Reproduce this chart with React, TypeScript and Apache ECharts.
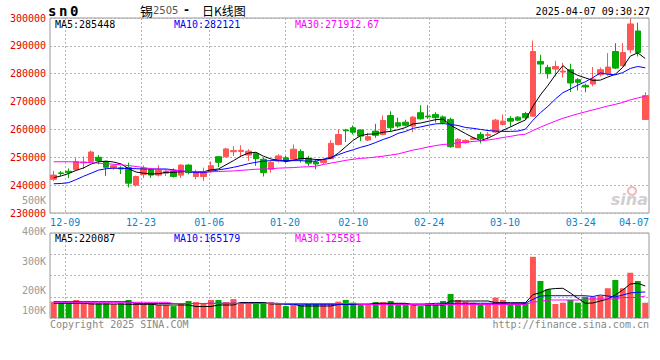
import React, { useEffect, useRef } from "react";
import * as echarts from "echarts";

const dates = [
  "12-05","12-06","12-09","12-10","12-11","12-12","12-13","12-16","12-17","12-18",
  "12-19","12-20","12-23","12-24","12-25","12-26","12-27","12-30","12-31","01-02",
  "01-03","01-06","01-07","01-08","01-09","01-10","01-13","01-14","01-15","01-16",
  "01-17","01-20","01-21","01-22","01-23","01-24","01-27","02-05","02-06","02-07",
  "02-10","02-11","02-12","02-13","02-14","02-17","02-18","02-19","02-20","02-21",
  "02-24","02-25","02-26","02-27","02-28","03-03","03-04","03-05","03-06","03-07",
  "03-10","03-11","03-12","03-13","03-14","03-17","03-18","03-19","03-20","03-21",
  "03-24","03-25","03-26","03-27","03-28","03-31","04-01","04-02","04-03","04-07",
];
const labelledDates = ["12-09","12-23","01-06","01-20","02-10","02-24","03-10","03-24","04-07"];

const opens = [
  242100,244400,245000,245500,248000,248500,250000,248500,246200,246200,
  246300,240000,243800,245600,243600,244300,244900,243600,247200,243100,
  243100,245000,250200,250200,252000,252100,250800,251300,249300,245700,
  248700,249800,249300,252100,249600,248300,248100,249500,254600,259800,
  260600,259800,256200,259400,258200,265000,262400,262600,261200,266000,
  264800,265400,264500,263600,253450,255240,256430,258210,257860,259050,
  261790,263930,264400,265710,264760,284400,282260,281670,280600,281430,
  277860,275830,276310,279640,280000,287970,282860,288570,295360,263570,
];
const closes = [
  243600,244200,244500,248500,248300,251900,248700,246400,247000,245800,
  240700,243100,246000,243600,245400,244900,243100,247200,244500,244500,
  244900,247000,248200,253000,252400,252500,252200,249500,244500,248100,
  250500,248700,252900,249300,247900,247600,249000,255000,258200,259500,
  259000,257600,257400,257900,263200,260600,261200,261500,264400,263800,
  264500,264200,262400,253800,256430,256070,256900,256790,258210,263330,
  262980,262980,263330,264170,287970,283450,280000,282600,280950,276670,
  276900,275240,278100,281430,282380,282020,287620,297860,287620,272140,
];
const lows = [
  241500,243300,242500,245500,245800,248300,247500,243300,245500,244000,
  239200,239500,242600,242600,243100,243300,242700,242600,243900,242100,
  241500,244500,246500,249900,250500,250000,248700,246900,243100,244500,
  248100,248000,248700,248100,246900,245700,247500,249500,254300,255500,
  258200,255800,255800,257000,257900,259400,260600,261000,259000,263500,
  263800,262500,261800,253400,253450,254880,256200,255000,256430,258810,
  261430,260950,263000,263450,264760,280000,278210,279050,278690,273450,
  273930,273330,275480,279050,279290,281670,282620,287380,286190,263570,
];
const highs = [
  245100,245000,246000,249900,250300,252400,250800,248700,247600,246800,
  248100,243400,247100,246000,247200,245700,246000,247500,247500,245500,
  246300,248500,250300,253400,254000,254300,252900,251600,249900,248700,
  251100,250500,254600,252900,250500,249300,249500,256100,260000,260200,
  261400,260000,258800,262000,265000,266500,264200,263500,264800,268700,
  268700,266200,265000,264200,256900,256430,257100,259050,259050,263810,
  265360,264760,264800,266310,291900,286790,283210,284640,283930,283570,
  278450,276430,282400,282260,287380,290950,290950,299760,298330,273330,
];

const ma5 = [
  242700,243300,244200,245300,246200,247600,248400,248600,248300,247600,
  245900,244700,244300,244000,244100,244600,244600,244800,244900,244800,
  244800,245500,245800,247300,248800,250400,251500,251800,250400,249400,
  248900,248500,248900,249600,249500,249200,249200,249600,251500,253800,
  256100,257800,258300,258400,259000,259300,259900,260700,262000,262300,
  262900,263500,263700,261500,260000,258500,257100,256000,256900,258200,
  259700,260900,262200,263400,268300,272400,275800,279600,282900,280700,
  279400,278500,277600,277700,278800,279800,282300,286300,287500,285448,
];
const ma10 = [
  240500,240600,240900,242000,243200,244300,245400,245900,246100,246000,
  246000,245900,245800,245800,245800,245800,245500,245100,244800,244500,
  244500,244900,245500,245900,246400,247000,247700,248200,248600,248800,
  248800,248800,248800,248800,248600,248600,249300,250000,250900,251900,
  252700,253600,254300,255300,256400,257300,258600,259300,260400,260900,
  261500,262000,262100,261800,261400,260700,260400,260000,259600,259400,
  259300,259300,259400,260100,263300,266000,268300,270900,273200,274500,
  275900,277100,278600,280300,279800,279600,280400,281900,282600,282121,
];
const ma30 = [
  248400,248400,248400,248300,248200,248100,247900,247700,247500,247300,
  247000,246700,246300,245900,245700,245500,245300,245100,244900,244800,
  244800,244800,244900,245000,245100,245300,245500,245700,245800,245900,
  246100,246200,246300,246500,246600,246800,247400,247900,248400,248900,
  249300,249600,249800,250100,250400,250800,251200,251900,252600,253100,
  253700,254200,254600,254800,255200,255400,255700,255900,256200,256600,
  257100,257500,258000,258300,259600,260800,261900,263000,264000,264800,
  265600,266300,267000,267700,268400,269000,269700,270600,271300,271913,
];

const volumes = [
  76700,72000,72000,84700,72000,72000,69000,69000,66000,69000,
  85000,72000,66000,69000,61000,61000,56000,66000,80000,75000,
  66000,85000,85000,75000,89000,72000,72000,75000,75000,75000,
  66000,56000,61000,61000,66000,69000,69000,69000,77000,85000,
  72000,61000,61000,75000,75000,80000,61000,61000,66000,56000,
  69000,61000,80000,113000,85000,77000,72000,66000,66000,96000,
  85000,66000,66000,72000,288000,174000,135000,66000,72000,85000,
  72000,100000,100000,104000,140000,179000,140000,213000,174000,72000,
];
const volMa5 = [
  69200,69200,69200,69200,69200,65900,65900,65900,65900,65900,
  64500,64500,64500,64500,61200,61200,61200,61200,61200,54100,
  54100,54100,61200,61200,61200,72900,72900,72900,72900,65900,
  65900,65900,65900,56500,56500,56500,56500,56500,63500,63500,
  63500,63500,63500,69200,69200,69200,69200,69200,61200,61200,
  61200,61200,61200,80000,80000,80000,80000,80000,80000,72000,
  72000,72000,72000,72000,110000,119000,135000,138800,139800,117700,
  92700,69200,70600,80000,89400,108200,131800,160000,163300,150600,
];
const volMa10 = [
  76700,76700,76700,76700,76700,76700,76700,76700,76700,76700,
  76700,68200,68200,68200,68200,68200,68200,68200,68200,68200,
  68200,69200,69200,69200,69200,69200,69200,69200,69200,69200,
  69200,64500,64500,64500,64500,64500,64500,64500,64500,64500,
  64500,65900,65900,65900,65900,65900,65900,65900,65900,65900,
  65900,69200,69200,69200,69200,69200,69200,69200,69200,69200,
  69200,69200,69200,69200,88000,103500,104900,104900,104900,104900,
  104900,104900,101200,108200,103500,98800,108200,117700,121000,122400,
];
const volMa30 = [
  73900,73900,73900,73900,73900,73900,73900,73900,73900,73900,
  73900,73900,73900,73900,73900,73900,68200,68200,68200,68200,
  68200,68200,68200,68200,68200,68200,68200,68200,68200,68200,
  68200,68200,68200,68200,68200,68200,68200,68200,68200,68200,
  68200,63500,63500,63500,63500,63500,63500,63500,63500,63500,
  63500,63500,63500,63500,63500,63500,63500,63500,63500,63500,
  63500,63500,63500,63500,75300,77600,84700,84700,84700,84700,
  84700,89400,89400,89400,89400,89400,96500,96500,96500,103500,
];

const priceMin = 230000;
const priceMax = 300000;
const priceStep = 10000;
const volMax = 400000;
const volStep = 100000;
const volTickLabels = ["400K", "300K", "200K", "100K"];
const volTickLabelY = [231, 261, 290, 310];

const MONO = '"DejaVu Sans Mono", "Liberation Mono", monospace';
const UP = "#ff5555";
const DOWN = "#00aa00";
const GRIDC = "#b4b4b4";

export default function App() {
  const ref = useRef<HTMLDivElement>(null);
  useEffect(() => {
    if (!ref.current) return;
    const chart = echarts.init(ref.current, null, { renderer: "svg" });
    const lineIdx = new Set(labelledDates.map((d) => dates.indexOf(d)));
    const lastIdx = dates.indexOf(labelledDates[labelledDates.length - 1]);
    const candleData = opens.map((o, i) => [o, closes[i], lows[i], highs[i]]);
    const volData = volumes.map((v, i) => ({
      value: v,
      itemStyle: { color: closes[i] >= opens[i] ? UP : DOWN },
    }));
    const grid = {
      show: true,
      borderColor: "#999",
      borderWidth: 1,
      backgroundColor: "transparent",
    };
    const splitX = {
      show: true,
      interval: (i: number) => lineIdx.has(i) && i !== lastIdx,
      lineStyle: { color: GRIDC, type: [2, 2] as any, width: 1 },
    };
    const hiddenCat = (gridIndex: number) => ({
      type: "category",
      gridIndex,
      position: "bottom",
      data: dates,
      boundaryGap: true,
      axisLine: { show: false },
      axisTick: { show: false },
      axisLabel: { show: false },
      splitLine: { show: false },
    });
    const line = (name: string, data: number[], color: string, xi: number) => ({
      type: "line",
      name,
      data,
      xAxisIndex: xi,
      yAxisIndex: xi,
      symbol: "none",
      silent: true,
      lineStyle: { color, width: 1 },
      z: 5,
    });
    const txt = (
      text: string,
      x: number,
      y: number,
      fill: string,
      align = "left",
      font = `10px ${MONO}`
    ) => ({
      type: "text",
      x,
      y,
      silent: true,
      style: { text, fill, font, textAlign: align, textVerticalAlign: "middle", verticalAlign: "middle" },
    });
    chart.setOption({
      animation: false,
      backgroundColor: "#fff",
      grid: [
        { ...grid, left: 50, top: 18, width: 599, height: 195 },
        { ...grid, left: 50, top: 233, width: 599, height: 85 },
      ],
      xAxis: [
        hiddenCat(0),
        hiddenCat(1),
        {
          type: "category",
          gridIndex: 0,
          position: "bottom",
          data: dates,
          boundaryGap: false,
          axisLine: { show: false },
          axisTick: { show: false },
          splitLine: splitX,
          axisLabel: {
            interval: (i: number) => lineIdx.has(i),
            margin: 4,
            formatter: (v: string) => (dates.indexOf(v) === lastIdx ? `{b|${v}}` : `{a|${v}}`),
            rich: {
              a: { color: "#0a84cc", fontFamily: MONO, fontSize: 10 },
              b: { color: "#0a84cc", fontFamily: MONO, fontSize: 10, padding: [0, 30, 0, 0] },
            },
          },
        },
        {
          type: "category",
          gridIndex: 1,
          position: "bottom",
          data: dates,
          boundaryGap: false,
          axisLine: { show: false },
          axisTick: { show: false },
          axisLabel: { show: false },
          splitLine: splitX,
        },
      ],
      yAxis: [
        {
          type: "value",
          gridIndex: 0,
          min: priceMin,
          max: priceMax,
          interval: priceStep,
          axisLine: { show: false },
          axisTick: { show: false },
          axisLabel: {
            color: "#e00000",
            fontFamily: MONO,
            fontSize: 10,
            margin: 4,
            formatter: (v: number) => String(v),
          },
          splitLine: { show: true, lineStyle: { color: GRIDC, type: [2, 2] as any } },
        },
        {
          type: "value",
          gridIndex: 1,
          min: 0,
          max: volMax,
          interval: volStep,
          axisLine: { show: false },
          axisTick: { show: false },
          axisLabel: { show: false },
          splitLine: { show: true, lineStyle: { color: GRIDC, type: [2, 2] as any } },
        },
      ],
      series: [
        {
          type: "candlestick",
          data: candleData,
          xAxisIndex: 0,
          yAxisIndex: 0,
          barWidth: 6,
          silent: true,
          itemStyle: {
            color: UP,
            color0: DOWN,
            borderColor: UP,
            borderColor0: DOWN,
            borderWidth: 1,
          },
        },
        line("MA5", ma5, "#000000", 0),
        line("MA10", ma10, "#0000ff", 0),
        line("MA30", ma30, "#ff00ff", 0),
        {
          type: "bar",
          data: volData,
          xAxisIndex: 1,
          yAxisIndex: 1,
          barWidth: 6,
          silent: true,
        },
        line("VMA5", volMa5, "#000000", 1),
        line("VMA10", volMa10, "#0000ff", 1),
        line("VMA30", volMa30, "#ff00ff", 1),
      ],
      graphic: [
        txt("s", 48, 11, "#000", "left", `bold 14px ${MONO}`),
        txt("n", 59, 11, "#000", "left", `bold 14px ${MONO}`),
        txt("0", 70, 11, "#000", "left", `bold 14px ${MONO}`),
        txt("锡", 140, 10, "#000", "left", '13px "Noto Sans CJK SC", sans-serif'),
        txt("2505", 153, 10, "#555", "left", '10px "DejaVu Sans", sans-serif'),
        txt("-", 184, 10, "#000", "left", 'bold 12px "DejaVu Sans", sans-serif'),
        txt("日K线图", 202, 10, "#000", "left", '12px "Noto Sans CJK SC", sans-serif'),
        txt("2025-04-07 09:30:27", 650, 11, "#000", "right"),
        txt("MA5:285448", 55, 24, "#000"),
        txt("MA10:282121", 174, 24, "#0000ff"),
        txt("MA30:271912.67", 295, 24, "#ff00ff"),
        txt("500K", 46, 200, "#999", "right"),
        txt("MA5:220087", 55, 238, "#000"),
        txt("MA10:165179", 174, 238, "#0000ff"),
        txt("MA30:125581", 295, 238, "#ff00ff"),
        ...volTickLabels.map((t, i) => txt(t, 46, volTickLabelY[i], "#999", "right")),
        txt("Copyright 2025 SINA.COM", 50, 324, "#888"),
        txt("http://finance.sina.com.cn", 649, 324, "#888", "right"),
        {
          type: "ring",
          silent: true,
          shape: { cx: 632, cy: 191, r: 5, r0: 3 },
          style: { fill: "#f4b8b8" },
        },
        txt("sina", 648, 199, "#d0d0d0", "right", 'italic bold 16px "DejaVu Sans", sans-serif'),
      ],
    });
    return () => chart.dispose();
  }, []);
  return (
    <div
      ref={ref}
      style={{ position: "absolute", left: 0, top: 0, width: 660, height: 360 }}
    />
  );
}
